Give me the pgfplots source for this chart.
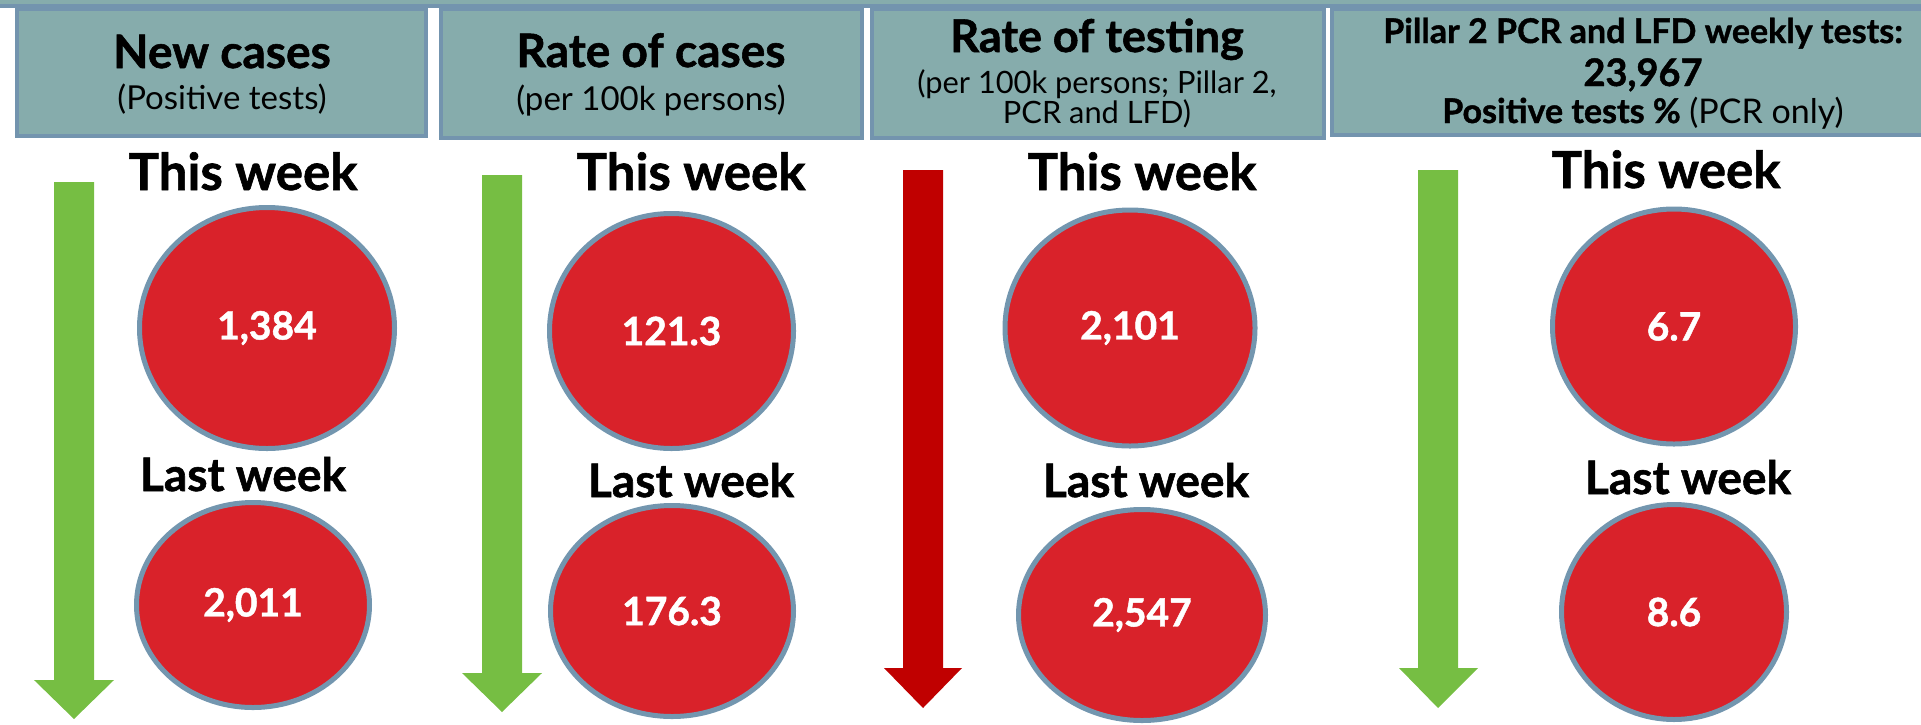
\documentclass[border=0pt]{standalone}
\usepackage{pgfplots}
\pgfplotsset{compat=1.18}
\usepackage{pgfplotstable}
\usepackage{fontspec}
\setmainfont{Lato}[BoldFeatures={FakeBold=1.2}]
\usetikzlibrary{shapes.geometric}

\definecolor{boxfill}{HTML}{86ACAC}
\definecolor{boxline}{HTML}{7394AE}
\definecolor{agreen}{HTML}{76BE43}
\definecolor{ared}{HTML}{C00000}
\definecolor{ellfill}{HTML}{D9222A}
\definecolor{ellline}{HTML}{7396AF}

% x, y (pixel centre), rx, ry (outer radii), value label
\pgfplotstableread{
x      y      rx     ry     label
267    328    130    123    1,384
671.5  331    124.5  120    121.3
1130   328    127.5  120.5  2,101
1674   326.5  124    120    6.7
}\thisweek
\pgfplotstableread{
x      y      rx     ry     label
253    605    119    105    2,011
672    611    124    108    176.3
1142   615    126    108    2,547
1674   612    115    110    8.6
}\lastweek

\begin{document}
\begin{tikzpicture}
\begin{axis}[
  width=960.5pt, height=362pt, scale only axis,
  xmin=0, xmax=1921, ymin=0, ymax=724, y dir=reverse,
  hide axis, clip=true,
  ellipsestyle/.style={
    draw=none, mark=none,
    nodes near coords={\pgfplotspointmeta},
    point meta=explicit symbolic,
    visualization depends on={\thisrow{rx} \as \rx},
    visualization depends on={\thisrow{ry} \as \ry},
    every node near coord/.append style={
      shape=ellipse, anchor=center, inner sep=0pt,
      fill=ellfill, draw=ellline, line width=2.5pt,
      minimum width={(\rx-2.5)*1pt}, minimum height={(\ry-2.5)*1pt},
      text=white, font=\fontsize{19.5}{21}\selectfont\bfseries},
  },
]
\coordinate (SW) at (axis cs:0,724);
\coordinate (NE) at (axis cs:1921,0);

% top band
\addplot[fill=boxfill, draw=boxline, line width=2pt] coordinates {(-20,-20) (1941,-20) (1941,6) (-20,6)} -- cycle;

% header boxes
\addplot[fill=boxfill, draw=boxline, line width=2pt] coordinates {(17,9) (426,9) (426,136) (17,136)} -- cycle;
\addplot[fill=boxfill, draw=boxline, line width=2pt] coordinates {(441,9) (862,9) (862,138) (441,138)} -- cycle;
\addplot[fill=boxfill, draw=boxline, line width=2pt] coordinates {(872,9) (1324,9) (1324,138) (872,138)} -- cycle;
\addplot[fill=boxfill, draw=none] coordinates {(1332,9) (1941,9) (1941,135) (1332,135)} -- cycle;
\addplot[draw=boxline, line width=2pt] coordinates {(1941,9) (1332,9) (1332,135) (1941,135)};

% arrows
\addplot[fill=agreen, draw=none] coordinates {(54,182) (94,182) (94,680) (114,680) (74,719) (34,680) (54,680)} -- cycle;
\addplot[fill=agreen, draw=none] coordinates {(482,175) (522,175) (522,673) (542,673) (502,712) (462,673) (482,673)} -- cycle;
\addplot[fill=ared, draw=none] coordinates {(903,170) (943,170) (943,668) (962,668) (923,708) (884,668) (903,668)} -- cycle;
\addplot[fill=agreen, draw=none] coordinates {(1418,170) (1458,170) (1458,668) (1478,668) (1438,708) (1399,668) (1418,668)} -- cycle;

% ellipses with values
\addplot[ellipsestyle] table[x=x, y=y, meta=label] {\thisweek};
\addplot[ellipsestyle] table[x=x, y=y, meta=label] {\lastweek};

% header texts
\node[anchor=base, font=\fontsize{23}{25}\selectfont\bfseries] at (222,68) {New cases};
\node[anchor=base, font=\fontsize{16.5}{18}\selectfont] at (222,109) {(Positive tests)};
\node[anchor=base, font=\fontsize{23}{25}\selectfont\bfseries] at (651,67) {Rate of cases};
\node[anchor=base, font=\fontsize{16.5}{18}\selectfont] at (651,110) {(per 100k persons)};
\node[anchor=base, font=\fontsize{22.5}{24}\selectfont\bfseries] at (1097,52) {Rate of testing};
\node[anchor=base, font=\fontsize{15.4}{17}\selectfont] at (1097,93) {(per 100k persons; Pillar 2,};
\node[anchor=base, font=\fontsize{15.4}{17}\selectfont] at (1097,123) {PCR and LFD)};
\node[anchor=base, font=\fontsize{17}{19}\selectfont\bfseries] at (1643,43) {Pillar 2 PCR and LFD weekly tests:};
\node[anchor=base, font=\fontsize{19}{21}\selectfont\bfseries] at (1643,86) {23,967};
\node[anchor=base, font=\fontsize{17}{19}\selectfont] at (1643,123) {\textbf{Positive tests \%} (PCR only)};

% week labels
\node[anchor=base, font=\fontsize{25.5}{27}\selectfont\bfseries] at (243,190) {This week};
\node[anchor=base, font=\fontsize{25.5}{27}\selectfont\bfseries] at (691,190) {This week};
\node[anchor=base, font=\fontsize{25.5}{27}\selectfont\bfseries] at (1142,190) {This week};
\node[anchor=base, font=\fontsize{25.5}{27}\selectfont\bfseries] at (1666,188) {This week};
\node[anchor=base, font=\fontsize{23}{25}\selectfont\bfseries] at (243,491) {Last week};
\node[anchor=base, font=\fontsize{23}{25}\selectfont\bfseries] at (691,497) {Last week};
\node[anchor=base, font=\fontsize{23}{25}\selectfont\bfseries] at (1146,497) {Last week};
\node[anchor=base, font=\fontsize{23}{25}\selectfont\bfseries] at (1688,494) {Last week};
\end{axis}
\pgfresetboundingbox
\path[use as bounding box] (SW) rectangle (NE);
\end{tikzpicture}
\end{document}
